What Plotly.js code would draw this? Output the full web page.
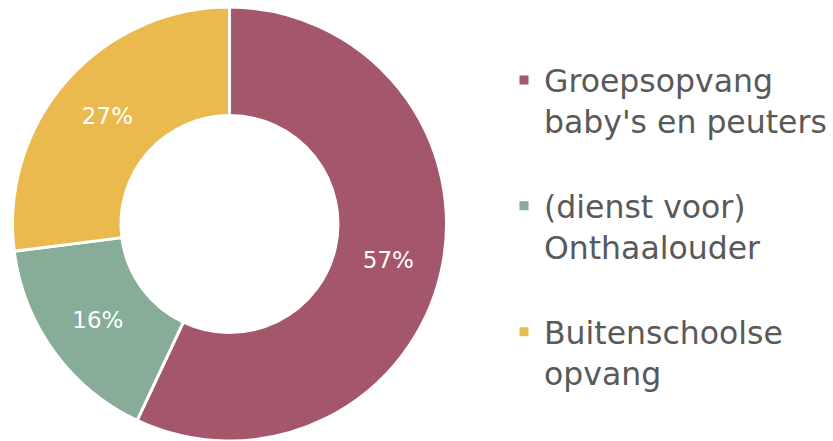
<!DOCTYPE html>
<html>
<head>
<meta charset="utf-8">
<script src="https://cdn.plot.ly/plotly-3.0.1.min.js"></script>
<style>html,body{margin:0;padding:0;background:#fff;}#chart{width:833px;height:441px;}</style>
</head>
<body>
<div id="chart"></div>
<script>
var labels = ["Groepsopvang<br>baby's en peuters<br>&nbsp;", "(dienst voor)<br>Onthaalouder<br>&nbsp;", "Buitenschoolse<br>opvang<br>&nbsp;"];
var values = [57, 16, 27];
var colors = ["#A4566A", "#87AC98", "#EBBA4E"];

var data = [{
  type: 'pie',
  labels: labels,
  values: values,
  sort: false,
  direction: 'clockwise',
  rotation: 0,
  hole: 0.5,
  marker: {colors: colors, line: {color: '#ffffff', width: 3}},
  textinfo: 'percent',
  textposition: 'inside',
  insidetextorientation: 'horizontal',
  textfont: {family: 'DejaVu Sans, Verdana, sans-serif', size: 23, color: '#ffffff'},
  hoverinfo: 'none',
  domain: {x: [9/833, 450/833], y: [0, 0.984]}
}];

var layout = {
  width: 833, height: 441,
  margin: {l: 0, r: 0, t: 0, b: 0},
  paper_bgcolor: '#ffffff',
  showlegend: true,
  legend: {
    x: 504/833, xanchor: 'left',
    y: 0.875, yanchor: 'top',
    valign: 'top',
    font: {family: 'DejaVu Sans, Verdana, sans-serif', size: 31.5, color: '#595959'},
    bgcolor: 'rgba(0,0,0,0)'
  }
};

Plotly.newPlot('chart', data, layout, {displayModeBar: false, staticPlot: true});
</script>
</body>
</html>
